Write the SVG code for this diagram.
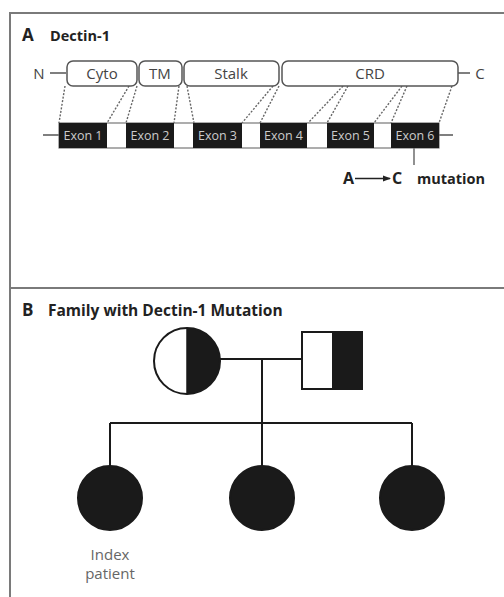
<svg xmlns="http://www.w3.org/2000/svg" width="504" height="597" viewBox="0 0 504 597">
<style>
.frame{fill:none;stroke:#7a7a7a;stroke-width:2}
.dom{fill:#fff;stroke:#555;stroke-width:1.5}
.lbl{font-family:"Open Sans","Noto Sans",sans-serif;font-size:15px;fill:#444;text-anchor:middle}
.exon{fill:#1a1a1a}
.etx{font-family:"Open Sans","Noto Sans",sans-serif;font-size:12.5px;fill:#ccc;text-anchor:middle}
.dash{stroke:#666;stroke-width:1.4;stroke-dasharray:2 1.6;fill:none}
.thin{stroke:#555;stroke-width:1.3;fill:none}
.head{font-family:"Open Sans","Noto Sans",sans-serif;font-weight:bold;fill:#222}
.ped{stroke:#1a1a1a;stroke-width:2;fill:none}
.aff{fill:#1a1a1a;stroke:#1a1a1a;stroke-width:2}
.note{font-family:"Open Sans","Noto Sans",sans-serif;font-size:15px;fill:#666;text-anchor:middle}
</style>
<defs>
<marker id="ah" markerWidth="8" markerHeight="8" refX="7" refY="4" orient="auto" markerUnits="userSpaceOnUse">
<path d="M0,1 L8,4 L0,7 Z" fill="#222"/>
</marker>
</defs>
<rect width="504" height="597" fill="#fff"/>
<g id="frame">
<path class="frame" d="M10,597 V13 H504"/>
<path class="frame" d="M10,288 H504"/>
</g>
<g id="panelA-title">
<text class="head" x="22" y="41" font-size="17">A</text>
<text class="head" x="50" y="41" font-size="14.5">Dectin-1</text>
</g>
<g id="connectors">
<path class="thin" d="M50,73 H66 M458,73 H470"/>
<path class="dash" d="M65,86 L59,123 M129,86 L107,123 M137,86 L126,123 M179,86 L174,123 M187,86 L194,123 M273,86 L242,123 M279,86 L260,123 M343,86 L308,123 M348,86 L327,123 M402,86 L374,123 M407,86 L391,123 M452,86 L439,123"/>
<path class="thin" d="M43,135 H59 M439,135 H453"/>
<path class="thin" d="M414,148 V165"/>
<path class="ped" d="M220,359 H302 M262,359 V423 M110,423 H412 M110,423 V467 M262,423 V467 M412,423 V467"/>
</g>
<g id="N"><text class="lbl" x="39" y="79" fill="#333">N</text></g>
<g id="C"><text class="lbl" x="480" y="79">C</text></g>
<g id="cyto"><rect class="dom" x="67" y="61" width="70" height="25" rx="6"/><text class="lbl" x="102" y="79">Cyto</text></g>
<g id="tm"><rect class="dom" x="139" y="61" width="43" height="25" rx="6"/><text class="lbl" x="160" y="79">TM</text></g>
<g id="stalk"><rect class="dom" x="184" y="61" width="95" height="25" rx="6"/><text class="lbl" x="231" y="79">Stalk</text></g>
<g id="crd"><rect class="dom" x="282" y="61" width="176" height="25" rx="6"/><text class="lbl" x="370" y="79">CRD</text></g>
<g id="gene">
<rect x="59" y="123" width="380" height="25" fill="#fff" stroke="#777" stroke-width="1.2"/>
</g>
<g id="exon1"><rect class="exon" x="59" y="123" width="48" height="25"/><text class="etx" x="83" y="140">Exon 1</text></g>
<g id="exon2"><rect class="exon" x="126" y="123" width="48" height="25"/><text class="etx" x="150" y="140">Exon 2</text></g>
<g id="exon3"><rect class="exon" x="193" y="123" width="49" height="25"/><text class="etx" x="217.5" y="140">Exon 3</text></g>
<g id="exon4"><rect class="exon" x="260" y="123" width="47" height="25"/><text class="etx" x="283.5" y="140">Exon 4</text></g>
<g id="exon5"><rect class="exon" x="327" y="123" width="47" height="25"/><text class="etx" x="350.5" y="140">Exon 5</text></g>
<g id="exon6"><rect class="exon" x="391" y="123" width="48" height="25"/><text class="etx" x="415" y="140">Exon 6</text></g>
<g id="mutation">
<text class="head" x="343" y="184" font-size="16">A</text>
<line x1="355" y1="178.5" x2="390" y2="178.5" stroke="#222" stroke-width="1.5" marker-end="url(#ah)"/>
<text class="head" x="392" y="184" font-size="16">C</text>
<text class="head" x="417" y="184" font-size="14.5">mutation</text>
</g>
<g id="panelB-title">
<text class="head" x="22" y="316" font-size="17">B</text>
<text class="head" x="48" y="316" font-size="15.5">Family with Dectin-1 Mutation</text>
</g>
<g id="mother">
<path d="M187,328 A33,33 0 0 1 187,394 Z" fill="#1a1a1a"/>
<circle cx="187" cy="361" r="33" fill="none" stroke="#1a1a1a" stroke-width="2"/>
<line x1="187" y1="328" x2="187" y2="394" stroke="#1a1a1a" stroke-width="1.5"/>
</g>
<g id="father">
<rect x="332" y="332" width="30" height="57" fill="#1a1a1a"/>
<rect x="302" y="332" width="60" height="57" fill="none" stroke="#1a1a1a" stroke-width="2"/>
</g>
<g id="child1"><circle class="aff" cx="110" cy="498" r="32"/></g>
<g id="child2"><circle class="aff" cx="262" cy="498" r="32"/></g>
<g id="child3"><circle class="aff" cx="412" cy="498" r="32"/></g>
<g id="index-label">
<text class="note" x="110" y="560">Index</text>
<text class="note" x="110" y="579">patient</text>
</g>
</svg>
